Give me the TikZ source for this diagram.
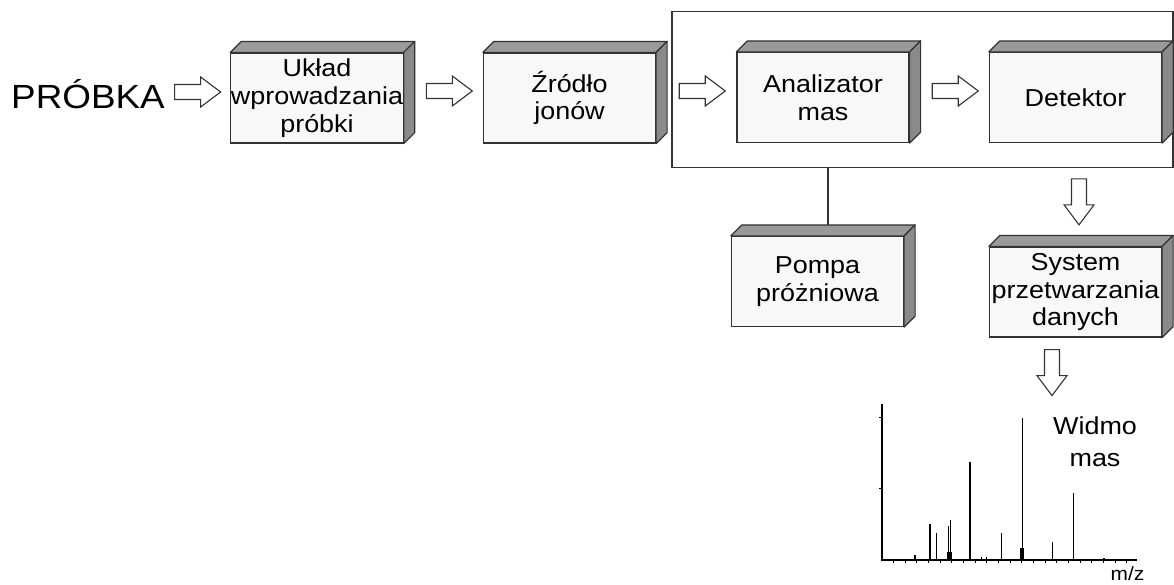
\documentclass[tikz,border=0pt]{standalone}
\usepackage{fontspec}
\setmainfont[FakeStretch=1.1]{Liberation Sans}
\usetikzlibrary{calc}
\definecolor{linec}{HTML}{333333}
\definecolor{frontc}{HTML}{F8F8F8}
\definecolor{topc}{HTML}{9A9A9A}
\definecolor{sidec}{HTML}{8A8A8A}
\tikzset{
  cube/.style={draw=linec, line width=1.2pt, fill=frontc, minimum width=172, minimum height=90,
    inner sep=0, align=center, font=\fontsize{24.5}{27.7}\selectfont},
  face/.style={draw=linec, line width=1.2pt, line join=round},
  frame/.style={draw=linec, line width=1.2pt, inner sep=0},
  link/.style={draw=linec, line width=1.2pt},
  barrow/.pic={\draw[draw=linec, line width=1.1pt, fill=white, line join=miter]
     (0,-7.5) -- (26,-7.5) -- (26,-15) -- (46,0) -- (26,15) -- (26,7.5) -- (0,7.5) -- cycle;},
  axis/.style={draw=black, line width=1.5pt},
  peak/.style={draw=black, line width=1.3pt},
  tickmark/.style={draw=black, line width=0.8pt},
}
\newcommand\cubefaces[1]{%
  \filldraw[face, fill=topc] (#1.north west) -- ++(11,-11) -- ($(#1.north east)+(11,-11)$) -- (#1.north east) -- cycle;
  \filldraw[face, fill=sidec] (#1.north east) -- ++(11,-11) -- ($(#1.south east)+(11,-11)$) -- (#1.south east) -- cycle;}
\begin{document}
\begin{tikzpicture}[x=1pt,y=-1pt]
\useasboundingbox (0,0) rectangle (1174,584);
% frame
\node[frame, minimum width=501, minimum height=155.5] (encl) at (922.5,89.5) {};
% boxes
\node[cube] (b1) at (317,98) {Układ\\wprowadzania\\próbki};
\node[cube] (b2) at (569.5,98) {Źródło\\jonów};
\node[cube] (b3) at (823,97.5) {Analizator\\mas};
\node[cube] (b4) at (1075.5,97.5) {Detektor};
\node[cube] (pump) at (817.5,281.5) {Pompa\\próżniowa};
\node[cube] (sys) at (1075.5,292) {System\\przetwarzania\\danych};
\cubefaces{b1}\cubefaces{b2}\cubefaces{b3}\cubefaces{b4}\cubefaces{pump}\cubefaces{sys}
% sample label
\node[font=\fontsize{33.5}{40}\selectfont, anchor=base west, inner sep=0] (sample) at (11,108.3) {PRÓBKA};
% horizontal hollow arrows
\coordinate (row0) at (0,92);
\coordinate (row) at (0,91);
\coordinate (t0) at ($(sample.east)!0.5!(b1.west)+(-23,0)$);
\coordinate (t1) at ($(b1.east)!0.5!(b2.west)+(-17,0)$);
\coordinate (t2) at ($(b2.east)!0.5!(b3.west)+(-17,0)$);
\coordinate (t3) at ($(b3.east)!0.5!(b4.west)+(-17,0)$);
\pic at (t0 |- row0) {barrow};
\pic at (t1 |- row) {barrow};
\pic at (t2 |- row) {barrow};
\pic at (t3 |- row) {barrow};
% vertical hollow arrows
\coordinate (d1) at ($(b4.south |- encl.south)+(3.5,11)$);
\coordinate (d2) at ($(sys.south)+(-23.5,12)$);
\pic[rotate=-90] at (d1) {barrow};
\pic[rotate=-90] at (d2) {barrow};
% pump link
\coordinate (vtop) at ($(encl.south)+(-94.5,0)$);
\draw[link] (vtop) -- ($(vtop |- pump.north)+(0,-11)$);
% spectrum
\draw[axis] (882,404) -- (882,560) -- (1137,560);
\draw[tickmark] (879,417.7) -- (882,417.7);
\draw[tickmark] (879,488.3) -- (882,488.3);
\foreach \i in {0,...,20} \draw[tickmark] ({893.3+11.67*\i},560) -- ++(0,3);
\foreach \x/\y in {915/555, 930/524, 936.3/533, 948.5/525.7, 950.8/520, 970/461.7, 981.7/556.7,
  986.7/557, 1001.3/533.3, 1022.7/418.3, 1052.3/542.3, 1073.3/492.7, 1104/558}
  \draw[peak] (\x,560) -- (\x,\y);
\fill (947.3,552) rectangle (951.8,560);
\fill (1020.2,548) rectangle (1023.5,560);
\node[font=\fontsize{24.5}{31.7}\selectfont, align=center, inner sep=0] (spectxt) at (1095,442) {Widmo\\mas};
\node[font=\fontsize{19}{22}\selectfont, anchor=base, inner sep=0] (mz) at (1127.5,580.5) {m/z};
\end{tikzpicture}
\end{document}
